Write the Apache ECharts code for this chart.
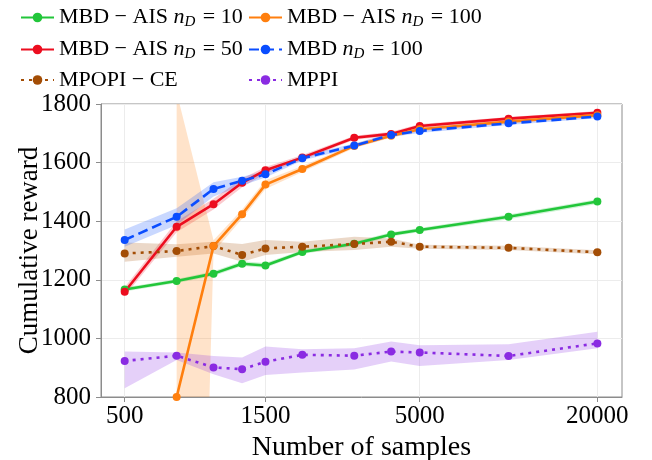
<!DOCTYPE html>
<html>
<head>
<meta charset="utf-8">
<script src="https://cdn.jsdelivr.net/npm/echarts@6/dist/echarts.min.js"></script>
<style>
  html, body { margin: 0; padding: 0; background: #fff; }
  #chart { width: 652px; height: 460px; }
</style>
</head>
<body>
<div id="chart"></div>
<script>
// Number of samples (log-scaled x axis)
const samples = [500, 750, 1000, 1250, 1500, 2000, 3000, 4000, 5000, 10000, 20000];
const xTicks = [500, 1500, 5000, 20000];
const yTicks = [800, 1000, 1200, 1400, 1600, 1800];

// MBD-AIS, n_D = 10
const ais10   = [1167, 1196, 1221, 1255, 1249, 1295, 1323, 1355, 1370, 1415, 1467];
const ais10Lo = [1160, 1189, 1213, 1247, 1241, 1288, 1316, 1348, 1363, 1407, 1459];
const ais10Hi = [1174, 1203, 1229, 1263, 1257, 1302, 1330, 1362, 1377, 1423, 1475];

// MBD-AIS, n_D = 50
const ais50   = [1159, 1381, 1458, 1531, 1574, 1617, 1685, 1698, 1725, 1750, 1770];
const ais50Lo = [1145, 1362, 1440, 1516, 1563, 1608, 1678, 1691, 1718, 1744, 1764];
const ais50Hi = [1175, 1400, 1477, 1546, 1585, 1626, 1692, 1705, 1732, 1756, 1776];

// MBD-AIS, n_D = 100 (no run at 500 samples)
const ais100   = [null, 800, 1315, 1424, 1525, 1578, 1657, 1692, 1714, 1740, 1762];
const ais100Lo = [null, -3200, 1295, 1408, 1510, 1568, 1650, 1685, 1707, 1734, 1756];
const ais100Hi = [null, 1840, 1335, 1440, 1540, 1588, 1664, 1699, 1721, 1746, 1768];

// MBD, n_D = 100
const mbd100   = [1336, 1415, 1510, 1538, 1560, 1615, 1658, 1694, 1708, 1734, 1757];
const mbd100Lo = [1313, 1387, 1484, 1522, 1549, 1607, 1651, 1687, 1701, 1728, 1751];
const mbd100Hi = [1372, 1444, 1533, 1552, 1571, 1623, 1665, 1701, 1715, 1740, 1763];

// MPOPI-CE
const mpopi   = [1290, 1298, 1315, 1285, 1307, 1313, 1322, 1330, 1313, 1309, 1294];
const mpopiLo = [1262, 1279, 1290, 1262, 1285, 1295, 1302, 1313, 1306, 1302, 1287];
const mpopiHi = [1327, 1321, 1330, 1322, 1336, 1330, 1347, 1341, 1320, 1316, 1301];

// MPPI
const mppi   = [923, 941, 901, 895, 920, 944, 941, 955, 952, 940, 983];
const mppiLo = [830, 926, 878, 847, 875, 884, 894, 921, 906, 926, 966];
const mppiHi = [955, 952, 940, 935, 972, 963, 966, 989, 977, 980, 1023];

const FONT = 'Liberation Serif';

const methods = [
  { key: 'a10',  label: 'MBD − AIS n_D = 10',  rich: '{r|MBD − AIS }{i|n}{s|D}{r| = 10}',  y: ais10,  lo: ais10Lo,  hi: ais10Hi,  color: '#22c63a', dash: 'solid' },
  { key: 'a50',  label: 'MBD − AIS n_D = 50',  rich: '{r|MBD − AIS }{i|n}{s|D}{r| = 50}',  y: ais50,  lo: ais50Lo,  hi: ais50Hi,  color: '#ec0d1f', dash: 'solid' },
  { key: 'cem',  label: 'MPOPI − CE',          rich: '{r|MPOPI − CE}',                     y: mpopi,  lo: mpopiLo,  hi: mpopiHi,  color: '#a34d05', dash: [3, 5] },
  { key: 'a100', label: 'MBD − AIS n_D = 100', rich: '{r|MBD − AIS }{i|n}{s|D}{r| = 100}', y: ais100, lo: ais100Lo, hi: ais100Hi, color: '#ff7f0e', dash: 'solid' },
  { key: 'mbd',  label: 'MBD n_D = 100',       rich: '{r|MBD }{i|n}{s|D}{r| = 100}',       y: mbd100, lo: mbd100Lo, hi: mbd100Hi, color: '#0a4dff', dash: [10, 5] },
  { key: 'mppi', label: 'MPPI',                rich: '{r|MPPI}',                           y: mppi,   lo: mppiLo,   hi: mppiHi,   color: '#8a2be2', dash: [3, 5] }
];
const richByName = {};
methods.forEach(m => { richByName[m.label] = m.rich; });

// Shaded spread band, drawn as one polygon through the axis scales
function bandSeries(m) {
  return {
    type: 'custom',
    silent: true,
    z: 1,
    data: [[1000, 1000]],
    renderItem: function (params, api) {
      const pts = [];
      for (let i = 0; i < samples.length; i++) {
        if (m.hi[i] != null) pts.push(api.coord([samples[i], m.hi[i]]));
      }
      for (let i = samples.length - 1; i >= 0; i--) {
        if (m.lo[i] != null) pts.push(api.coord([samples[i], m.lo[i]]));
      }
      const cs = params.coordSys;
      return {
        type: 'group',
        clipPath: { type: 'rect', shape: { x: cs.x, y: cs.y, width: cs.width, height: cs.height } },
        children: [{
          type: 'polygon',
          shape: { points: pts },
          style: { fill: m.color, opacity: 0.22 }
        }]
      };
    }
  };
}

function lineSeries(m) {
  return {
    name: m.label,
    type: 'line',
    z: 3,
    data: samples.map((s, i) => [s, m.y[i]]),
    connectNulls: false,
    symbol: 'circle',
    symbolSize: 8,
    showSymbol: true,
    clip: true,
    lineStyle: { color: m.color, width: 2.6, type: m.dash },
    itemStyle: { color: m.color },
    emphasis: { disabled: true }
  };
}

const series = [];
methods.forEach(m => series.push(bandSeries(m)));
methods.forEach(m => series.push(lineSeries(m)));

const richStyles = {
  r: { fontFamily: FONT, fontSize: 22, lineHeight: 24, color: '#000' },
  i: { fontFamily: FONT, fontSize: 22, fontStyle: 'italic', lineHeight: 24, color: '#000' },
  s: { fontFamily: FONT, fontSize: 15, fontStyle: 'italic', lineHeight: 24, color: '#000', padding: [10, 2, 0, 0] }
};

function legendCol(left, names) {
  return {
    orient: 'vertical',
    left: left,
    top: 0,
    itemWidth: 33,
    itemHeight: 12,
    itemGap: 7,
    selectedMode: false,
    data: names,
    formatter: name => richByName[name],
    textStyle: { fontFamily: FONT, fontSize: 22, color: '#000', rich: richStyles }
  };
}

const chart = echarts.init(document.getElementById('chart'), null, { renderer: 'canvas' });
chart.setOption({
  animation: false,
  backgroundColor: '#fff',
  legend: [
    legendCol(15, [methods[0].label, methods[1].label, methods[2].label]),
    legendCol(243, [methods[3].label, methods[4].label, methods[5].label])
  ],
  grid: {
    left: 101, right: 30, top: 104, bottom: 63,
    outerBoundsMode: 'none',
    containLabel: false,
    show: true, borderColor: '#8c8c8c', borderWidth: 1, backgroundColor: 'transparent'
  },
  xAxis: {
    type: 'log',
    logBase: 10,
    min: 415.6,
    max: 24240,
    name: 'Number of samples',
    nameLocation: 'middle',
    nameGap: 29,
    nameTextStyle: { fontFamily: FONT, fontSize: 28, color: '#000' },
    axisLine: { show: true, lineStyle: { color: '#8c8c8c', width: 1 } },
    axisTick: { show: true, inside: false, length: 5, customValues: xTicks, lineStyle: { color: '#8c8c8c' } },
    axisLabel: { customValues: xTicks, fontFamily: FONT, fontSize: 25, color: '#000', margin: 7, formatter: v => String(v) },
    splitLine: { show: true, lineStyle: { color: '#ececec', width: 1 } },
    minorTick: { show: false },
    minorSplitLine: { show: false }
  },
  yAxis: {
    type: 'value',
    min: 800,
    max: 1800,
    interval: 200,
    name: 'Cumulative reward',
    nameLocation: 'middle',
    nameGap: 58,
    nameMoveOverlap: false,
    nameTextStyle: { fontFamily: FONT, fontSize: 27, color: '#000' },
    axisLine: { show: true, lineStyle: { color: '#8c8c8c', width: 1 } },
    axisTick: { show: true, inside: false, length: 5, lineStyle: { color: '#8c8c8c' } },
    axisLabel: { fontFamily: FONT, fontSize: 25, color: '#000', margin: 10, formatter: v => yTicks.includes(v) ? String(v) : '' },
    splitLine: { show: true, lineStyle: { color: '#ececec', width: 1 } }
  },
  series: series
});
</script>
</body>
</html>
